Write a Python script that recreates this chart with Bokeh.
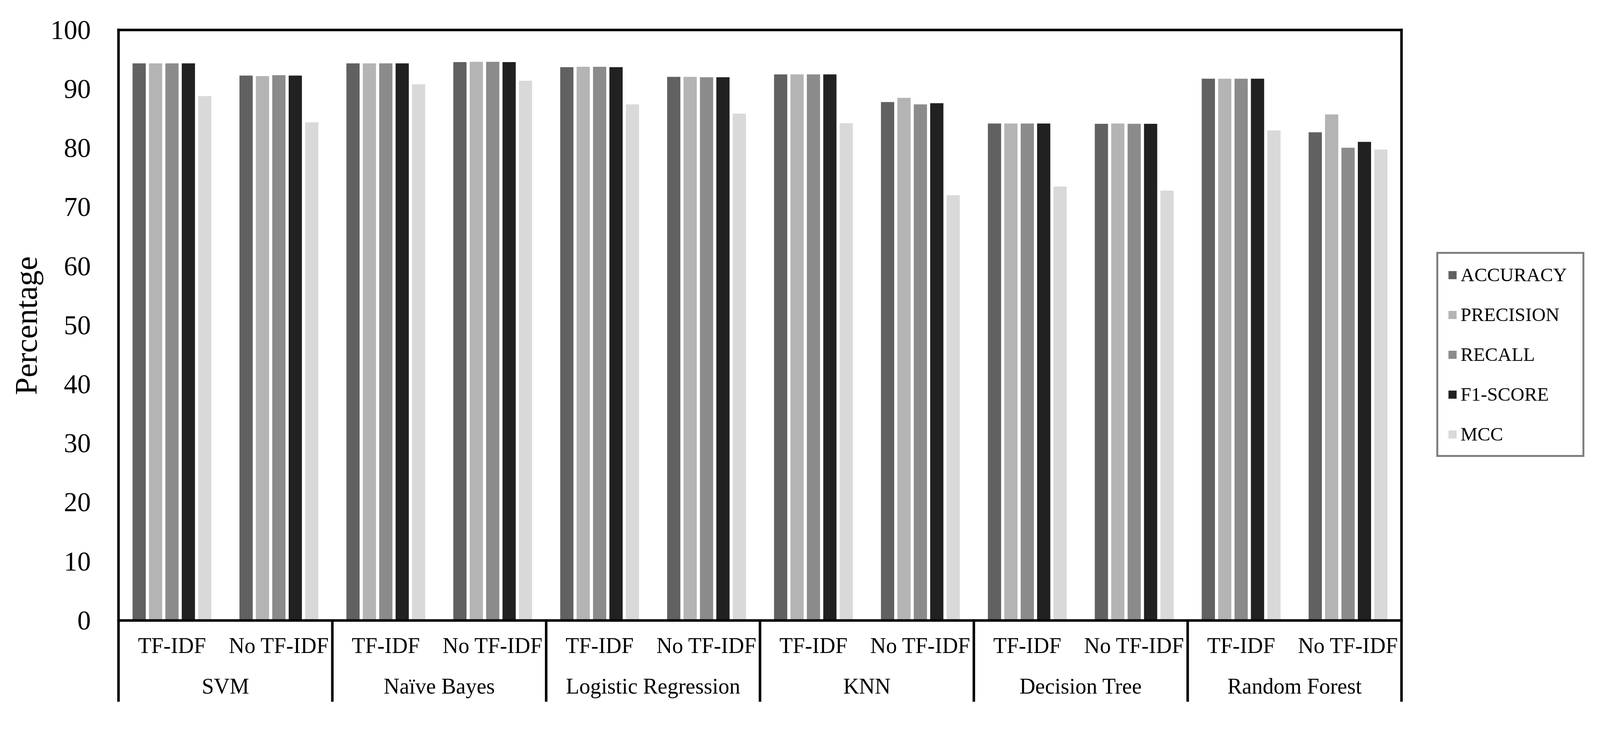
from bokeh.plotting import figure
from bokeh.models import (ColumnDataSource, FixedTicker, Legend, LegendItem,
                          Range1d, Title)
from bokeh.transform import dodge
from bokeh.core.properties import value
from bokeh.embed import file_html
from bokeh.resources import INLINE

# ---------------- data ----------------
classifiers = ["SVM", "Naïve Bayes", "Logistic Regression", "KNN",
               "Decision Tree", "Random Forest"]
settings = ["TF-IDF", "No TF-IDF"]
metrics = ["ACCURACY", "PRECISION", "RECALL", "F1-SCORE", "MCC"]

# order: SVM TF, SVM No, NB TF, NB No, LR TF, LR No, KNN TF, KNN No, DT TF, DT No, RF TF, RF No
accuracy  = [94.35, 92.27, 94.35, 94.56, 93.70, 92.06, 92.47, 87.80, 84.15, 84.10, 91.75, 82.67]
precision = [94.35, 92.20, 94.35, 94.60, 93.77, 92.06, 92.47, 88.50, 84.15, 84.15, 91.75, 85.70]
recall    = [94.35, 92.35, 94.35, 94.60, 93.77, 92.00, 92.47, 87.40, 84.15, 84.10, 91.75, 80.06]
f1_score  = [94.35, 92.27, 94.35, 94.56, 93.70, 92.00, 92.47, 87.60, 84.15, 84.10, 91.75, 81.05]
mcc       = [88.80, 84.35, 90.80, 91.40, 87.40, 85.83, 84.20, 72.00, 73.50, 72.80, 82.99, 79.74]

y_ticks = [0, 10, 20, 30, 40, 50, 60, 70, 80, 90, 100]

colors = ["#616161", "#b4b4b4", "#8b8b8b", "#212121", "#d9d9d9"]

# ---------------- build ----------------
FONT = "Liberation Serif"
nsub = len(settings)
series = dict(zip(metrics, [accuracy, precision, recall, f1_score, mcc]))

# slot centres along the x scale (one unit per sub-category)
xc, sub = [], []
for gi, c in enumerate(classifiers):
    for si, s in enumerate(settings):
        xc.append(gi * nsub + si + 0.5)
        sub.append(s)
src = ColumnDataSource(dict(xc=xc, sub=sub, **series))

n_slots = len(classifiers) * nsub
p = figure(width=4152, height=1866,
           x_range=Range1d(-0.0398, 14.063), y_range=Range1d(-18.37, 105.04),
           output_backend="svg", toolbar_location=None,
           min_border_left=292, min_border_right=0,
           min_border_top=0, min_border_bottom=0)

p.grid.visible = False
p.outline_line_color = None
p.xaxis.visible = False
p.background_fill_color = "white"
p.border_fill_color = "white"

ya = p.yaxis[0]
ya.ticker = FixedTicker(ticks=y_ticks)
ya.axis_line_color = None
ya.major_tick_line_color = None
ya.minor_tick_line_color = None
ya.major_label_text_font = FONT
ya.major_label_text_font_size = "69px"
ya.major_label_text_color = "black"
ya.major_label_standoff = 54

pitch = 0.1534
bar_w = 0.1238
renderers = []
for i, m in enumerate(metrics):
    r = p.vbar(x=dodge("xc", (i - 2) * pitch), top=m, bottom=0,
               width=bar_w, source=src, fill_color=colors[i], line_color=None)
    renderers.append(r)

LW = 6.5
x_lo, x_hi = 0, n_slots
bottom_sep = -13.76
# frame: top line, left/right sides, axis line at 0
p.segment(x0=[x_lo], x1=[x_hi], y0=[100], y1=[100], line_color="black",
          line_width=LW, line_cap="square")
p.segment(x0=[x_lo, x_hi], x1=[x_lo, x_hi], y0=[100, 100], y1=[0, 0],
          line_color="black", line_width=LW, line_cap="square")
# separators between classifiers below the axis
bounds = [gi * nsub for gi in range(len(classifiers) + 1)]
p.segment(x0=bounds, x1=bounds, y0=[0] * len(bounds), y1=[bottom_sep] * len(bounds),
          line_color="black", line_width=LW)
p.segment(x0=[x_lo], x1=[x_hi], y0=[0], y1=[0], line_color="black",
          line_width=LW, line_cap="square")

# sub-category labels and group labels
p.text(x="xc", y=-4.25, text="sub", source=src, text_align="center",
       text_baseline="alphabetic", text_font=value(FONT), text_font_size="56px",
       text_color="black")
grp_src = ColumnDataSource(dict(x=[gi * nsub + nsub / 2 for gi in range(len(classifiers))],
                                t=classifiers))
p.text(x="x", y=-11.12, text="t", source=grp_src, text_align="center",
       text_baseline="alphabetic", text_font=value(FONT), text_font_size="56px",
       text_color="black")

# y axis title
p.add_layout(Title(text="Percentage", align="left", offset=855, standoff=27,
                   text_font=FONT, text_font_size="81px", text_font_style="normal",
                   text_color="black"), "left")

legend = Legend(items=[LegendItem(label=m, renderers=[r]) for m, r in zip(metrics, renderers)],
                location=(3385, 696), margin=0, padding=(23, 40, 25, 25), spacing=45,
                glyph_width=26, glyph_height=26, label_height=26,
                label_standoff=8, label_text_font=FONT,
                label_text_font_size="49px", label_text_color="black",
                border_line_color="black", border_line_width=5,
                background_fill_color="white", background_fill_alpha=1.0)
p.add_layout(legend, "center")

open("out.html", "w").write(file_html(p, INLINE))
